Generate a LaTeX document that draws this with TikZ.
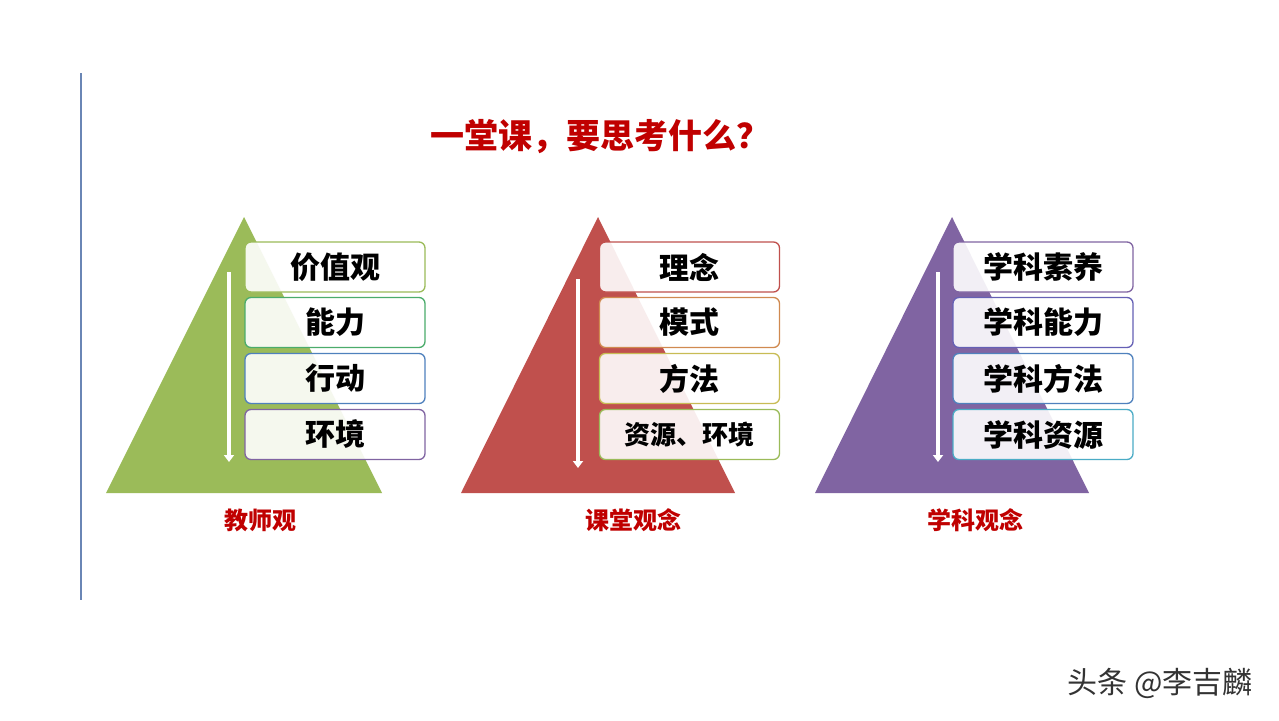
\documentclass[tikz,border=0pt]{standalone}
\usepackage{fontspec}
\newfontfamily\cjk{Noto Sans CJK SC}
\usetikzlibrary{arrows.meta}
\definecolor{tgreen}{HTML}{9BBB59}
\definecolor{tred}{HTML}{C0504D}
\definecolor{tpurple}{HTML}{8064A2}
\definecolor{titlered}{HTML}{C00000}
\definecolor{vline}{HTML}{6A86B5}
\definecolor{bgreen}{HTML}{9BBB59}
\definecolor{bteal}{HTML}{4BAC6B}
\definecolor{bblue}{HTML}{4F81BD}
\definecolor{bpurple}{HTML}{8064A2}
\definecolor{bred}{HTML}{C0504D}
\definecolor{borange}{HTML}{D08A50}
\definecolor{bolive}{HTML}{C8BC55}
\definecolor{bviolet}{HTML}{6560B5}
\definecolor{bcyan}{HTML}{4BACC6}
\tikzset{
  box/.style={draw, line width=1.3pt, rounded corners=6pt, fill=white, fill opacity=0.9, text opacity=1,
    minimum width=180pt, minimum height=50pt, inner sep=0pt, font=\cjk\bfseries\fontsize{30}{32}\selectfont, text=black},
  warrow/.style={draw=white, line width=3.5pt, -{Triangle[width=10pt,length=7pt]}},
  lab/.style={font=\cjk\bfseries\fontsize{24}{26}\selectfont, text=titlered},
  ttl/.style={font=\cjk\bfseries\fontsize{34}{36}\selectfont, text=titlered},
  wm/.style={font=\cjk\fontsize{30}{32}\selectfont, text=black!80}
}
\begin{document}
\begin{tikzpicture}[x=1pt,y=-1pt]
\useasboundingbox (0,0) rectangle (1279,720);
\fill[white] (0,0) rectangle (1279,720);
% vertical line
\coordinate (vtop) at (81,73);
\coordinate (vbot) at (81,600);
\draw[line width=2pt, vline] (vtop) -- (vbot);
% title
\node[ttl] (title) at (600,137) {一堂课，要思考什么？};
% triangles
\fill[tgreen] (244,217) -- (382,493) -- (106,493) -- cycle;
\fill[tred] (598,217) -- (735,493) -- (461,493) -- cycle;
\fill[tpurple] (952,217) -- (1089,493) -- (815,493) -- cycle;
% arrows
\coordinate (ga1) at (229,272); \coordinate (ga2) at (229,462);
\coordinate (ra1) at (578,279); \coordinate (ra2) at (578,468);
\coordinate (pa1) at (938,272); \coordinate (pa2) at (938,462);
\draw[warrow] (ga1) -- (ga2);
\draw[warrow] (ra1) -- (ra2);
\draw[warrow] (pa1) -- (pa2);
% green boxes
\node[box, draw=bgreen] (g1) at (335,267) {价值观};
\node[box, draw=bteal] (g2) at (335,322.5) {能力};
\node[box, draw=bblue] (g3) at (335,378.5) {行动};
\node[box, draw=bpurple] (g4) at (335,434.5) {环境};
% red boxes
\node[box, draw=bred] (r1) at (689.5,267) {理念};
\node[box, draw=borange] (r2) at (689.5,322.5) {模式};
\node[box, draw=bolive] (r3) at (689.5,378.5) {方法};
\node[box, draw=bgreen, font=\cjk\bfseries\fontsize{26}{28}\selectfont] (r4) at (689.5,434.5) {资源、环境};
% purple boxes
\node[box, draw=bpurple] (p1) at (1043,267) {学科素养};
\node[box, draw=bviolet] (p2) at (1043,322.5) {学科能力};
\node[box, draw=bblue] (p3) at (1043,378.5) {学科方法};
\node[box, draw=bcyan] (p4) at (1043,434.5) {学科资源};
% labels
\node[lab] (l1) at (260,520) {教师观};
\node[lab] (l2) at (633,520) {课堂观念};
\node[lab] (l3) at (975,520) {学科观念};
% watermark
\node[wm] (wm) at (1160,683) {头条 @李吉麟};
\end{tikzpicture}
\end{document}
